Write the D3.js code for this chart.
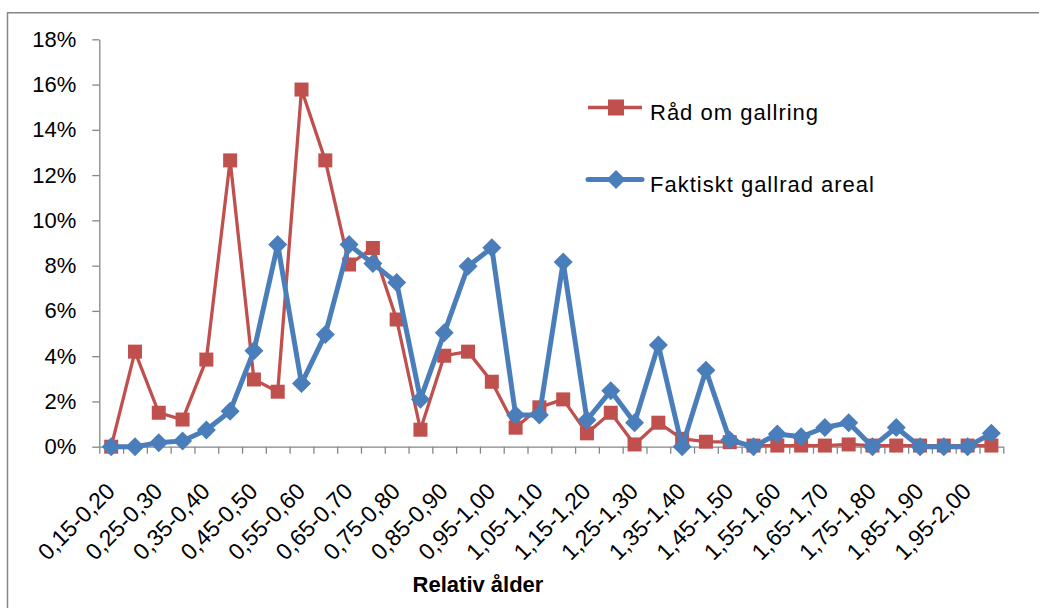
<!DOCTYPE html>
<html>
<head>
<meta charset="utf-8">
<script src="https://cdn.jsdelivr.net/npm/d3@7"></script>
<style>
  body { margin: 0; background: #fff; }
  svg { display: block; font-family: "Liberation Sans", Arial, sans-serif; }
</style>
</head>
<body>
<div id="my_dataviz"></div>
<script>
// categories (relative age classes)
var categories = ["0,15-0,20","0,20-0,25","0,25-0,30","0,30-0,35","0,35-0,40","0,40-0,45",
  "0,45-0,50","0,50-0,55","0,55-0,60","0,60-0,65","0,65-0,70","0,70-0,75","0,75-0,80",
  "0,80-0,85","0,85-0,90","0,90-0,95","0,95-1,00","1,00-1,05","1,05-1,10","1,10-1,15",
  "1,15-1,20","1,20-1,25","1,25-1,30","1,30-1,35","1,35-1,40","1,40-1,45","1,45-1,50",
  "1,50-1,55","1,55-1,60","1,60-1,65","1,65-1,70","1,70-1,75","1,75-1,80","1,80-1,85",
  "1,85-1,90","1,90-1,95","1,95-2,00","2,00-2,05"];

// series values in percent
var radOmGallring = [0, 4.2, 1.5, 1.2, 3.85, 12.65, 2.97, 2.43, 15.78, 12.65, 8.05, 8.78, 5.62,
  0.75, 4.02, 4.2, 2.87, 0.84, 1.74, 2.09, 0.59, 1.5, 0.1, 1.06, 0.35, 0.22, 0.2, 0.05,
  0.05, 0.05, 0.05, 0.1, 0.05, 0.05, 0.05, 0.05, 0.05, 0.05];
var faktisktGallrat = [0, 0, 0.18, 0.25, 0.74, 1.57, 4.24, 8.93, 2.79, 4.96, 8.93, 8.09, 7.25,
  2.1, 5.03, 7.97, 8.79, 1.4, 1.4, 8.16, 1.18, 2.47, 1.06, 4.49, 0, 3.38, 0.3, 0, 0.56,
  0.44, 0.85, 1.06, 0, 0.85, 0, 0, 0, 0.59];

var yTicks = [0, 2, 4, 6, 8, 10, 12, 14, 16, 18];
var seriesNames = ["Råd om gallring", "Faktiskt gallrad areal"];

var red = "#C0504D", blue = "#4A7EBB", axisGray = "#868686";

var svg = d3.select("#my_dataviz")
  .append("svg")
    .attr("width", 1039)
    .attr("height", 608);

// chart frame
svg.append("path")
  .attr("d", "M7.5,608 V12.7 H1039")
  .attr("fill", "none")
  .attr("stroke", axisGray)
  .attr("stroke-width", 1.5);

var plotLeft = 99.3, plotRight = 1003.3, plotTop = 39.3, plotBottom = 446.7;

var x = d3.scaleBand()
  .domain(categories)
  .range([plotLeft, plotRight])
  .padding(0);

var xb = d3.scaleLinear()
  .domain([0, categories.length])
  .range([plotLeft, plotRight]);

var y = d3.scaleLinear()
  .domain([0, 18])
  .range([plotBottom, plotTop]);

// Y axis
var gy = svg.append("g")
  .attr("transform", "translate(" + plotLeft + ",0)")
  .call(d3.axisLeft(y).tickValues(yTicks).tickSize(7).tickSizeOuter(0).tickPadding(16)
    .tickFormat(function(d) { return d + "%"; }));
gy.selectAll("path, line").attr("stroke", axisGray).attr("stroke-width", 1.3);
gy.selectAll("text").attr("font-size", 22).attr("fill", "#000")
  .attr("font-family", "'Liberation Sans', Arial, sans-serif");

// X axis (ticks at category boundaries)
var gx = svg.append("g")
  .attr("transform", "translate(0," + plotBottom + ")")
  .call(d3.axisBottom(xb).tickValues(d3.range(categories.length + 1)).tickSize(7)
    .tickSizeOuter(0).tickFormat(""));
gx.selectAll("path, line").attr("stroke", axisGray).attr("stroke-width", 1.3);

// rotated category labels, every second one
svg.append("g")
  .selectAll("text")
  .data(categories.filter(function(d, i) { return i % 2 === 0; }))
  .enter().append("text")
    .attr("transform", function(d) {
      return "translate(" + (x(d) + x.bandwidth() / 2 + 5) + "," + (plotBottom + 46) + ") rotate(-45)";
    })
    .attr("text-anchor", "end")
    .attr("font-size", 23)
    .attr("fill", "#000")
    .text(function(d) { return d; });

// axis title
svg.append("text")
  .attr("x", 478)
  .attr("y", 592)
  .attr("text-anchor", "middle")
  .attr("font-size", 22)
  .attr("font-weight", "bold")
  .attr("fill", "#000")
  .text("Relativ ålder");

var line = d3.line()
  .x(function(d, i) { return x(categories[i]) + x.bandwidth() / 2; })
  .y(function(d) { return y(d); });

// red series
svg.append("path")
  .datum(radOmGallring)
  .attr("fill", "none")
  .attr("stroke", red)
  .attr("stroke-width", 3.3)
  .attr("stroke-linejoin", "round")
  .attr("d", line);

svg.append("g")
  .selectAll("rect")
  .data(radOmGallring)
  .enter().append("rect")
    .attr("x", function(d, i) { return x(categories[i]) + x.bandwidth() / 2 - 7; })
    .attr("y", function(d) { return y(d) - 7; })
    .attr("width", 14)
    .attr("height", 14)
    .attr("fill", red);

// blue series
svg.append("path")
  .datum(faktisktGallrat)
  .attr("fill", "none")
  .attr("stroke", blue)
  .attr("stroke-width", 5)
  .attr("stroke-linejoin", "round")
  .attr("d", line);

var diamond = "M0,-9.5 L9.5,0 L0,9.5 L-9.5,0 Z";
svg.append("g")
  .selectAll("path")
  .data(faktisktGallrat)
  .enter().append("path")
    .attr("transform", function(d, i) {
      return "translate(" + (x(categories[i]) + x.bandwidth() / 2) + "," + y(d) + ")";
    })
    .attr("d", diamond)
    .attr("fill", blue);

// legend
var legend = svg.append("g");
var legY = [107.5, 179.5];
legend.append("line").attr("x1", 588).attr("x2", 642).attr("y1", legY[0]).attr("y2", legY[0])
  .attr("stroke", red).attr("stroke-width", 3.3);
legend.append("rect").attr("x", 608).attr("y", legY[0] - 8).attr("width", 16).attr("height", 16)
  .attr("fill", red);
legend.append("line").attr("x1", 588).attr("x2", 642).attr("y1", legY[1]).attr("y2", legY[1])
  .attr("stroke", blue).attr("stroke-width", 5).attr("stroke-linecap", "round");
legend.append("path").attr("transform", "translate(616," + legY[1] + ")")
  .attr("d", diamond).attr("fill", blue);

legend.selectAll("text")
  .data(seriesNames)
  .enter().append("text")
    .attr("x", 650)
    .attr("y", function(d, i) { return legY[i] + 12; })
    .attr("font-size", 22)
    .attr("letter-spacing", 1)
    .attr("fill", "#000")
    .text(function(d) { return d; });
</script>
</body>
</html>
